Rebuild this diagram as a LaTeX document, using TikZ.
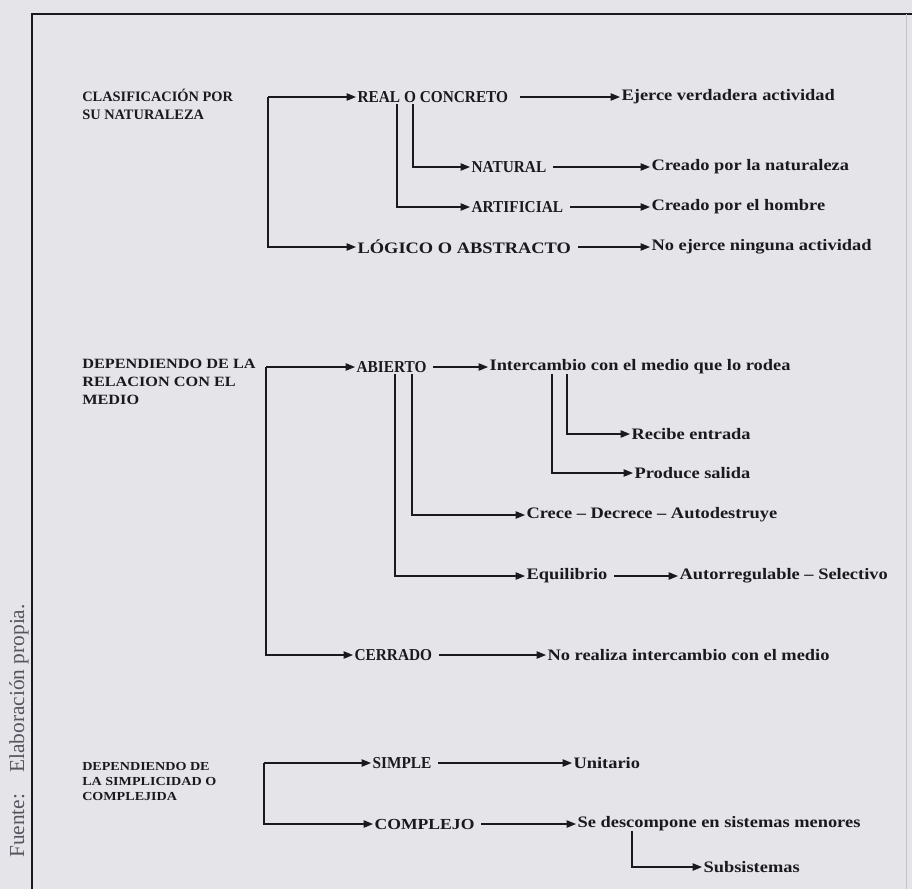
\documentclass[tikz,border=0pt]{standalone}
\usepackage{fontspec}
\setmainfont{Liberation Serif}
\newfontfamily\widefont[FakeStretch=1.15,Ligatures=TeX]{Liberation Serif}
\newfontfamily\capfont[FakeStretch=0.92]{Liberation Serif}
\usetikzlibrary{arrows.meta,positioning,calc}
\definecolor{paper}{RGB}{228,228,233}
\definecolor{ink}{RGB}{25,25,30}
\definecolor{note}{RGB}{85,85,95}

\tikzset{
  x=0.75pt, y=-0.75pt,
  lbl/.style={font=\capfont\bfseries\fontsize{12.5}{14}\selectfont, text=ink, inner sep=1pt, anchor=west},
  desc/.style={lbl, font=\widefont\bfseries\fontsize{12}{14}\selectfont},
  head/.style={font=\bfseries\fontsize{10.8}{13.5}\selectfont, text=ink, inner sep=0pt, anchor=north west, align=left},
  arr/.style={draw=ink, line width=0.85pt, -{Triangle[length=7pt,width=5.5pt]}},
  link/.style={arr, shorten <=4pt}
}

\begin{document}
\begin{tikzpicture}
  \fill[paper] (0,0) rectangle (912,889);
  \useasboundingbox (0,0) rectangle (912,889);
  % frame
  \draw[ink, line width=0.9pt] (32,889) -- (32,14) -- (912,14);
  \draw[note!35, line width=0.6pt] (906,14) -- (906,889);
  \node[rotate=90, font=\fontsize{16}{18}\selectfont, text=note] (fuente) at (19,731) {Fuente:\quad Elaboración propia.};

  % clasificacion por su naturaleza
  \node[head] (h1) at (82,89) {CLASIFICACIÓN POR\\SU NATURALEZA};
  \node[lbl] (real) at (356,97) {REAL O CONCRETO};
  \node[desc] (ejerce) at (620,97) {Ejerce verdadera actividad};
  \node[lbl] (natural) at (470,167) {NATURAL};
  \node[desc] (crnat) at (650,167) {Creado por la naturaleza};
  \node[lbl] (artif) at (470,207) {ARTIFICIAL};
  \node[desc] (crhom) at (650,207) {Creado por el hombre};
  \node[lbl, font=\widefont\bfseries\fontsize{12}{14}\selectfont] (logico) at (356,247) {LÓGICO O ABSTRACTO};
  \node[desc] (noej) at (650,247) {No ejerce ninguna actividad};
  \coordinate (b1) at (268,97);
  \coordinate (r1) at (413,104);
  \coordinate (r2) at (397,104);
  \draw[arr] (b1) -- (real);
  \draw[arr] (b1) |- (logico.west);
  \draw[arr] (r1) |- (natural.west);
  \draw[arr] (r2) |- (artif.west);
  \draw[link, shorten <=8pt] (real) -- (ejerce);
  \draw[link] (natural) -- (crnat);
  \draw[link] (artif) -- (crhom);
  \draw[link] (logico) -- (noej);

  % relacion con el medio
  \node[head, font=\widefont\bfseries\fontsize{10.6}{13.5}\selectfont] (h2) at (82,359) {DEPENDIENDO DE LA\\RELACION CON EL\\MEDIO};
  \node[lbl] (abierto) at (355,367) {ABIERTO};
  \node[desc] (interc) at (488,367) {Intercambio con el medio que lo rodea};
  \node[desc] (recibe) at (630,434) {Recibe entrada};
  \node[desc] (produce) at (633,473) {Produce salida};
  \node[desc] (crece) at (525,515) {Crece – Decrece – Autodestruye};
  \node[desc] (equil) at (525,576) {Equilibrio};
  \node[desc] (autorr) at (678,576) {Autorregulable – Selectivo};
  \node[lbl] (cerrado) at (353,655) {CERRADO};
  \node[desc] (norea) at (546,655) {No realiza intercambio con el medio};
  \coordinate (b2) at (266,367);
  \coordinate (a1) at (412,374);
  \coordinate (a2) at (395,374);
  \coordinate (i1) at (567,374);
  \coordinate (i2) at (552,374);
  \draw[arr] (b2) -- (abierto);
  \draw[arr] (b2) |- (cerrado.west);
  \draw[arr] (a1) |- (crece.west);
  \draw[arr] (a2) |- (equil.west);
  \draw[arr] (i1) |- (recibe.west);
  \draw[arr] (i2) |- (produce.west);
  \draw[link] (abierto) -- (interc);
  \draw[link] (equil) -- (autorr);
  \draw[link] (cerrado) -- (norea);

  % simplicidad o complejidad
  \node[head, font=\widefont\bfseries\fontsize{9.2}{11.2}\selectfont] (h3) at (82,762) {DEPENDIENDO DE\\LA SIMPLICIDAD O\\COMPLEJIDA};
  \node[lbl] (simple) at (371,763) {SIMPLE};
  \node[desc] (unit) at (572,763) {Unitario};
  \node[lbl, font=\widefont\bfseries\fontsize{11.5}{14}\selectfont] (complejo) at (373,824) {COMPLEJO};
  \node[desc] (descomp) at (576,824) {Se descompone en sistemas menores};
  \node[desc] (subsis) at (702,867) {Subsistemas};
  \coordinate (b3) at (264,763);
  \coordinate (d1) at (632,831);
  \draw[arr] (b3) -- (simple);
  \draw[arr] (b3) |- (complejo.west);
  \draw[arr] (d1) |- (subsis.west);
  \draw[link] (simple) -- (unit);
  \draw[link] (complejo) -- (descomp);
\end{tikzpicture}
\end{document}
